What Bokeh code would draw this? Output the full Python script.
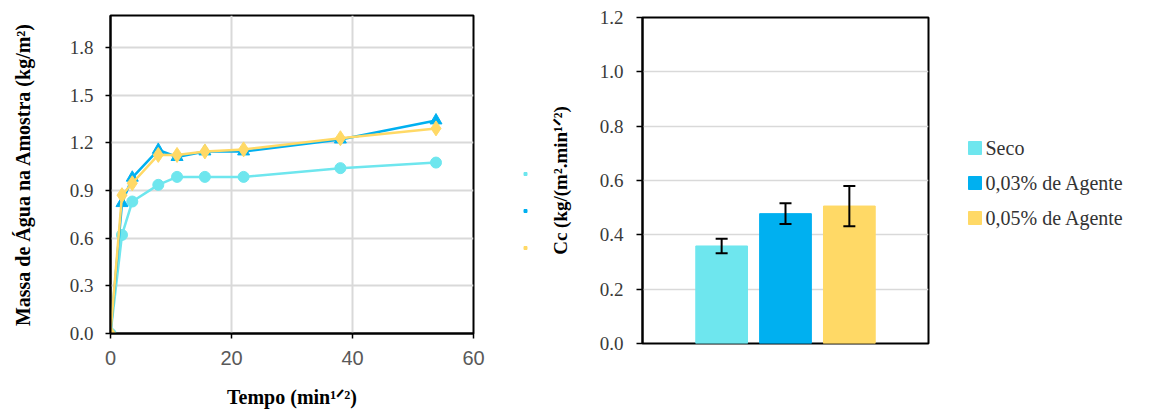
from bokeh.plotting import figure
from bokeh.layouts import row
from bokeh.models import (ColumnDataSource, Range1d, FactorRange, Whisker, TeeHead,
                          FixedTicker, PrintfTickFormatter)
from bokeh.core.properties import value
from bokeh.embed import file_html
from bokeh.resources import INLINE

# ---------------- data ----------------
tempo = [0, 1.9, 3.6, 7.9, 11.0, 15.6, 22.0, 38.0, 53.8]
seco = [0, 0.62, 0.83, 0.935, 0.985, 0.985, 0.985, 1.04, 1.075]
ag003 = [0, 0.82, 0.98, 1.155, 1.11, 1.145, 1.145, 1.22, 1.34]
ag005 = [0, 0.87, 0.945, 1.123, 1.123, 1.145, 1.158, 1.228, 1.29]

series = ["Seco", "0,03% de Agente", "0,05% de Agente"]
cc = [0.359, 0.478, 0.506]
cc_err = [0.027, 0.038, 0.074]
colors = ["#6EE6EE", "#00B0F0", "#FFD966"]

x_ticks_left = [0, 20, 40, 60]
y_ticks_left = [0.0, 0.3, 0.6, 0.9, 1.2, 1.5, 1.8]
y_ticks_right = [0.0, 0.2, 0.4, 0.6, 0.8, 1.0, 1.2]

SERIF = "Liberation Serif"
SANS = "Liberation Sans"
H = 410


def blank(fig):
    fig.axis.visible = False
    fig.grid.grid_line_color = None
    fig.outline_line_color = None
    fig.background_fill_color = "white"
    fig.border_fill_color = "white"


# ---------------- left chart ----------------
p1 = figure(width=500, height=H, x_range=Range1d(0, 60), y_range=Range1d(0, 2.0),
            output_backend="svg", toolbar_location=None, frame_align=False,
            min_border_left=110, min_border_right=27, min_border_top=15,
            min_border_bottom=H - 334)
p1.outline_line_color = "black"
p1.outline_line_width = 2
p1.background_fill_color = "white"
p1.border_fill_color = "white"

p1.xaxis.ticker = FixedTicker(ticks=x_ticks_left)
p1.yaxis.ticker = FixedTicker(ticks=y_ticks_left)
p1.xaxis.formatter = PrintfTickFormatter(format="%d")
p1.yaxis.formatter = PrintfTickFormatter(format="%.1f")
p1.grid.grid_line_color = "#D9D9D9"
p1.grid.grid_line_width = 2
for ax in (p1.xaxis, p1.yaxis):
    ax.axis_line_color = "black"
    ax.axis_line_width = 2
    ax.major_tick_line_color = "black"
    ax.major_tick_line_width = 1.5
    ax.major_tick_out = 5
    ax.major_tick_in = 0
    ax.minor_tick_line_color = None
p1.xaxis.major_label_text_font = SANS
p1.xaxis.major_label_text_font_size = "20px"
p1.xaxis.major_label_text_color = "#595959"
p1.xaxis.major_label_standoff = 12
p1.yaxis.major_label_text_font = SERIF
p1.yaxis.major_label_text_font_size = "19px"
p1.yaxis.major_label_text_color = "#3A3A3A"
p1.yaxis.major_label_standoff = 12

p1.xaxis.axis_label = "Tempo (min¹ᐟ²)"
p1.yaxis.axis_label = "Massa de Água na Amostra (kg/m²)"
for ax in (p1.xaxis, p1.yaxis):
    ax.axis_label_text_font = SERIF
    ax.axis_label_text_font_style = "bold"
    ax.axis_label_text_font_size = "20px"
    ax.axis_label_text_color = "black"
p1.xaxis.axis_label_standoff = 18
p1.yaxis.axis_label_standoff = 33

p1.line(tempo, seco, line_color=colors[0], line_width=2.5)
p1.scatter(tempo, seco, marker="circle", size=11, color=colors[0])
p1.line(tempo, ag003, line_color=colors[1], line_width=2.5)
p1.scatter(tempo, ag003, marker="triangle", size=12, color=colors[1])
p1.line(tempo, ag005, line_color=colors[2], line_width=2.5)
p1.scatter(tempo, ag005, marker="diamond", size=15, color=colors[2])

# tiny collapsed legend of the line chart (only its markers are visible)
pm = figure(width=45, height=H, x_range=Range1d(-1, 1),
            y_range=FactorRange(factors=list(reversed(series))),
            output_backend="svg", toolbar_location=None, frame_align=False,
            min_border_left=15, min_border_right=10, min_border_top=155,
            min_border_bottom=H - 266)
blank(pm)
pm.scatter(x=[0] * len(series), y=series, marker="square", size=3, color=colors)

# ---------------- right chart ----------------
src = ColumnDataSource(dict(x=series, top=cc,
                            upper=[v + e for v, e in zip(cc, cc_err)],
                            lower=[v - e for v, e in zip(cc, cc_err)],
                            color=colors))

p2 = figure(width=405, height=H, x_range=FactorRange(factors=series, range_padding=0.493),
            y_range=Range1d(0, 1.2), output_backend="svg", toolbar_location=None,
            frame_align=False,
            min_border_left=97, min_border_right=22, min_border_top=17,
            min_border_bottom=H - 343)
p2.outline_line_color = "black"
p2.outline_line_width = 2
p2.background_fill_color = "white"
p2.border_fill_color = "white"
p2.xgrid.grid_line_color = None
p2.ygrid.grid_line_color = "#D9D9D9"
p2.ygrid.grid_line_width = 1.5
p2.xaxis.visible = False

p2.yaxis.ticker = FixedTicker(ticks=y_ticks_right)
p2.yaxis.formatter = PrintfTickFormatter(format="%.1f")
p2.yaxis.axis_line_color = "black"
p2.yaxis.axis_line_width = 2
p2.yaxis.major_tick_line_color = "black"
p2.yaxis.major_tick_line_width = 1.5
p2.yaxis.major_tick_out = 6
p2.yaxis.major_tick_in = 0
p2.yaxis.minor_tick_line_color = None
p2.yaxis.major_label_text_font = SERIF
p2.yaxis.major_label_text_font_size = "19px"
p2.yaxis.major_label_text_color = "#3A3A3A"
p2.yaxis.major_label_standoff = 13
p2.yaxis.axis_label = "Cc (kg/(m².min¹ᐟ²)"
p2.yaxis.axis_label_text_font = SERIF
p2.yaxis.axis_label_text_font_style = "bold"
p2.yaxis.axis_label_text_font_size = "19px"
p2.yaxis.axis_label_text_color = "black"
p2.yaxis.axis_label_standoff = 26

p2.vbar(x="x", top="top", width=0.81, fill_color="color", line_color="color", source=src)
wh = Whisker(base="x", upper="upper", lower="lower", source=src, level="overlay",
             line_color="black", line_width=2,
             upper_head=TeeHead(size=12, line_width=2, line_color="black"),
             lower_head=TeeHead(size=12, line_width=2, line_color="black"))
p2.add_layout(wh)

# ---------------- legend of the bar chart ----------------
LW = 195
p3 = figure(width=LW, height=H, x_range=Range1d(0, LW),
            y_range=FactorRange(factors=list(reversed(series))),
            output_backend="svg", toolbar_location=None, frame_align=False,
            min_border_left=0, min_border_right=0, min_border_top=130,
            min_border_bottom=H - 235)
blank(p3)
glyph_x = 24.5
text_x = 35
p3.scatter(x=[glyph_x] * len(series), y=series, marker="square", size=13,
           color=colors)
p3.text(x=[text_x] * len(series), y=series, text=series,
        text_font=value(SERIF), text_font_size="20px", text_color="#333333",
        text_baseline="middle", text_align="left")

layout = row(p1, pm, p2, p3, spacing=0)
open("out.html", "w").write(file_html(layout, INLINE))
